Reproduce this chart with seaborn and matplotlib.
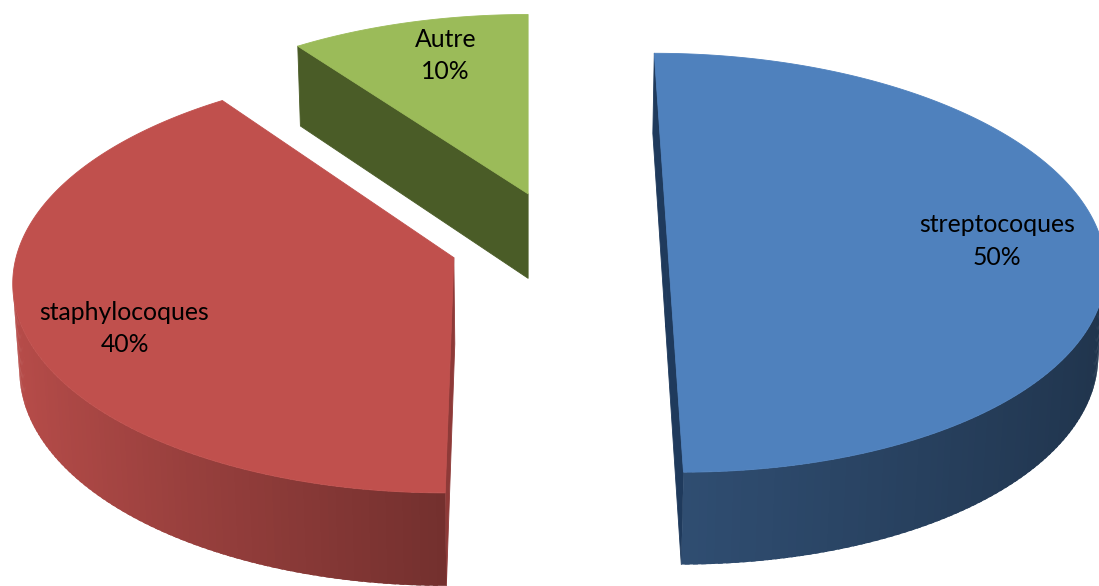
import numpy as np
import matplotlib
matplotlib.use("Agg")
import matplotlib.pyplot as plt
from matplotlib.patches import Polygon
from matplotlib.colors import to_rgb
import seaborn as sns

# ---- data ----
categories = ["streptocoques", "staphylocoques", "Autre"]
percentages = [50, 40, 10]

# ---- style ----
top_colors = ["#4F81BD", "#C0504D", "#9BBB59"]
cut_colors = ["#1F3A5C", "#8E3A38", "#4A5C27"]
explode = [0.245, 0.258, 0.245]
label_nudge = [(0, 0), (-3, -20), (10, 5)]  # display pixels, (right, up)

sns.set_theme(style="white")
plt.rcParams["font.family"] = ["Lato", "DejaVu Sans"]

W, H = 1099, 586

# 3D pie scene: unit-radius disc, viewed in perspective from above/front
ELEV = np.radians(28.5)
DIST = 8.48
FOCAL = 3682.0
THICK = 0.228
CAM_X = -0.076
ORIGIN = (528.0, 241.0)
LABEL_R = 0.76

ce, se = np.cos(ELEV), np.sin(ELEV)
cam = np.array([CAM_X, -DIST * ce, DIST * se])


def project(x, y, z):
    x = np.atleast_1d(np.asarray(x, float))
    y = np.atleast_1d(np.asarray(y, float))
    z = np.atleast_1d(np.asarray(z, float))
    w = DIST + y * ce - z * se
    up = y * se + z * ce
    return np.column_stack([ORIGIN[0] + FOCAL * (x - CAM_X) / w,
                            ORIGIN[1] - FOCAL * up / w])


def facing(normal, point):
    return np.dot(normal, cam - point) > 0


def side_shade(base, nx):
    f = 0.6 - 0.36 * nx if nx < 0 else 0.6 - 0.2 * nx
    return tuple(np.clip(np.array(to_rgb(base)) * f, 0, 1))


def poly(ax, pts, color, z, lw=0.6):
    ax.add_patch(Polygon(pts, closed=True, facecolor=color,
                         edgecolor=color if lw > 0 else "none",
                         linewidth=lw, joinstyle="round", zorder=z))


fig = plt.figure(figsize=(W / 100, H / 100), dpi=100)
ax = fig.add_axes([0, 0, 1, 1])
ax.set_xlim(0, W)
ax.set_ylim(H, 0)
ax.axis("off")

fractions = np.array(percentages, float) / np.sum(percentages)
edges = np.concatenate([[0.0], np.cumsum(fractions)]) * 2 * np.pi

slices = []
for i in range(len(categories)):
    t0, t1 = edges[i], edges[i + 1]
    tm = 0.5 * (t0 + t1)
    cx, cy = explode[i] * np.sin(tm), explode[i] * np.cos(tm)
    slices.append((i, t0, t1, tm, cx, cy))

# paint from the back of the scene to the front
slices.sort(key=lambda s: -s[5])

for order, (i, t0, t1, tm, cx, cy) in enumerate(slices):
    zb = order * 10
    base = top_colors[i]

    # flat cut faces along the two radii
    for t, n in ((t0, np.array([-np.cos(t0), np.sin(t0), 0.0])),
                 (t1, np.array([np.cos(t1), -np.sin(t1), 0.0]))):
        rx, ry = cx + np.sin(t), cy + np.cos(t)
        mid = np.array([(cx + rx) / 2, (cy + ry) / 2, -THICK / 2])
        if facing(n, mid):
            pts = project([cx, rx, rx, cx], [cy, ry, ry, cy],
                          [0, 0, -THICK, -THICK])
            poly(ax, pts, cut_colors[i], zb + 1)

    # curved outer wall, shaded by its orientation; each strip overlaps
    # the next one slightly so no seams show between them
    nseg = max(int(np.degrees(t1 - t0)), 4)
    ts = np.linspace(t0, t1, nseg + 1)
    step = ts[1] - ts[0]
    visible = []
    for a, b in zip(ts[:-1], ts[1:]):
        m = 0.5 * (a + b)
        n = np.array([np.sin(m), np.cos(m), 0.0])
        p = np.array([cx + np.sin(m), cy + np.cos(m), -THICK / 2])
        if facing(n, p):
            visible.append((a, b, n[0]))
    for k, (a, b, nx) in enumerate(visible):
        b2 = b + 0.6 * step if k < len(visible) - 1 else b
        sub = np.linspace(a, b2, 4)
        xs = cx + np.sin(np.concatenate([sub, sub[::-1]]))
        ys = cy + np.cos(np.concatenate([sub, sub[::-1]]))
        zs = np.concatenate([np.zeros(4), np.full(4, -THICK)])
        poly(ax, project(xs, ys, zs), side_shade(base, nx), zb + 2, lw=0)

    # top face
    arc = np.linspace(t0, t1, nseg * 4 + 1)
    xs = np.concatenate([[cx], cx + np.sin(arc)])
    ys = np.concatenate([[cy], cy + np.cos(arc)])
    poly(ax, project(xs, ys, np.zeros_like(xs)), base, zb + 3)

# data labels
for i, (name, pct) in enumerate(zip(categories, percentages)):
    tm = 0.5 * (edges[i] + edges[i + 1])
    cx, cy = explode[i] * np.sin(tm), explode[i] * np.cos(tm)
    lx, ly = cx + LABEL_R * np.sin(tm), cy + LABEL_R * np.cos(tm)
    px, py = project(lx, ly, 0.0)[0]
    ax.annotate(f"{name}\n{pct}%", xy=(px, py), xytext=label_nudge[i],
                textcoords="offset pixels", ha="center", va="center",
                multialignment="center", fontsize=17.8, color="black",
                linespacing=1.48, zorder=100)

fig.savefig("out.png", dpi=100)
